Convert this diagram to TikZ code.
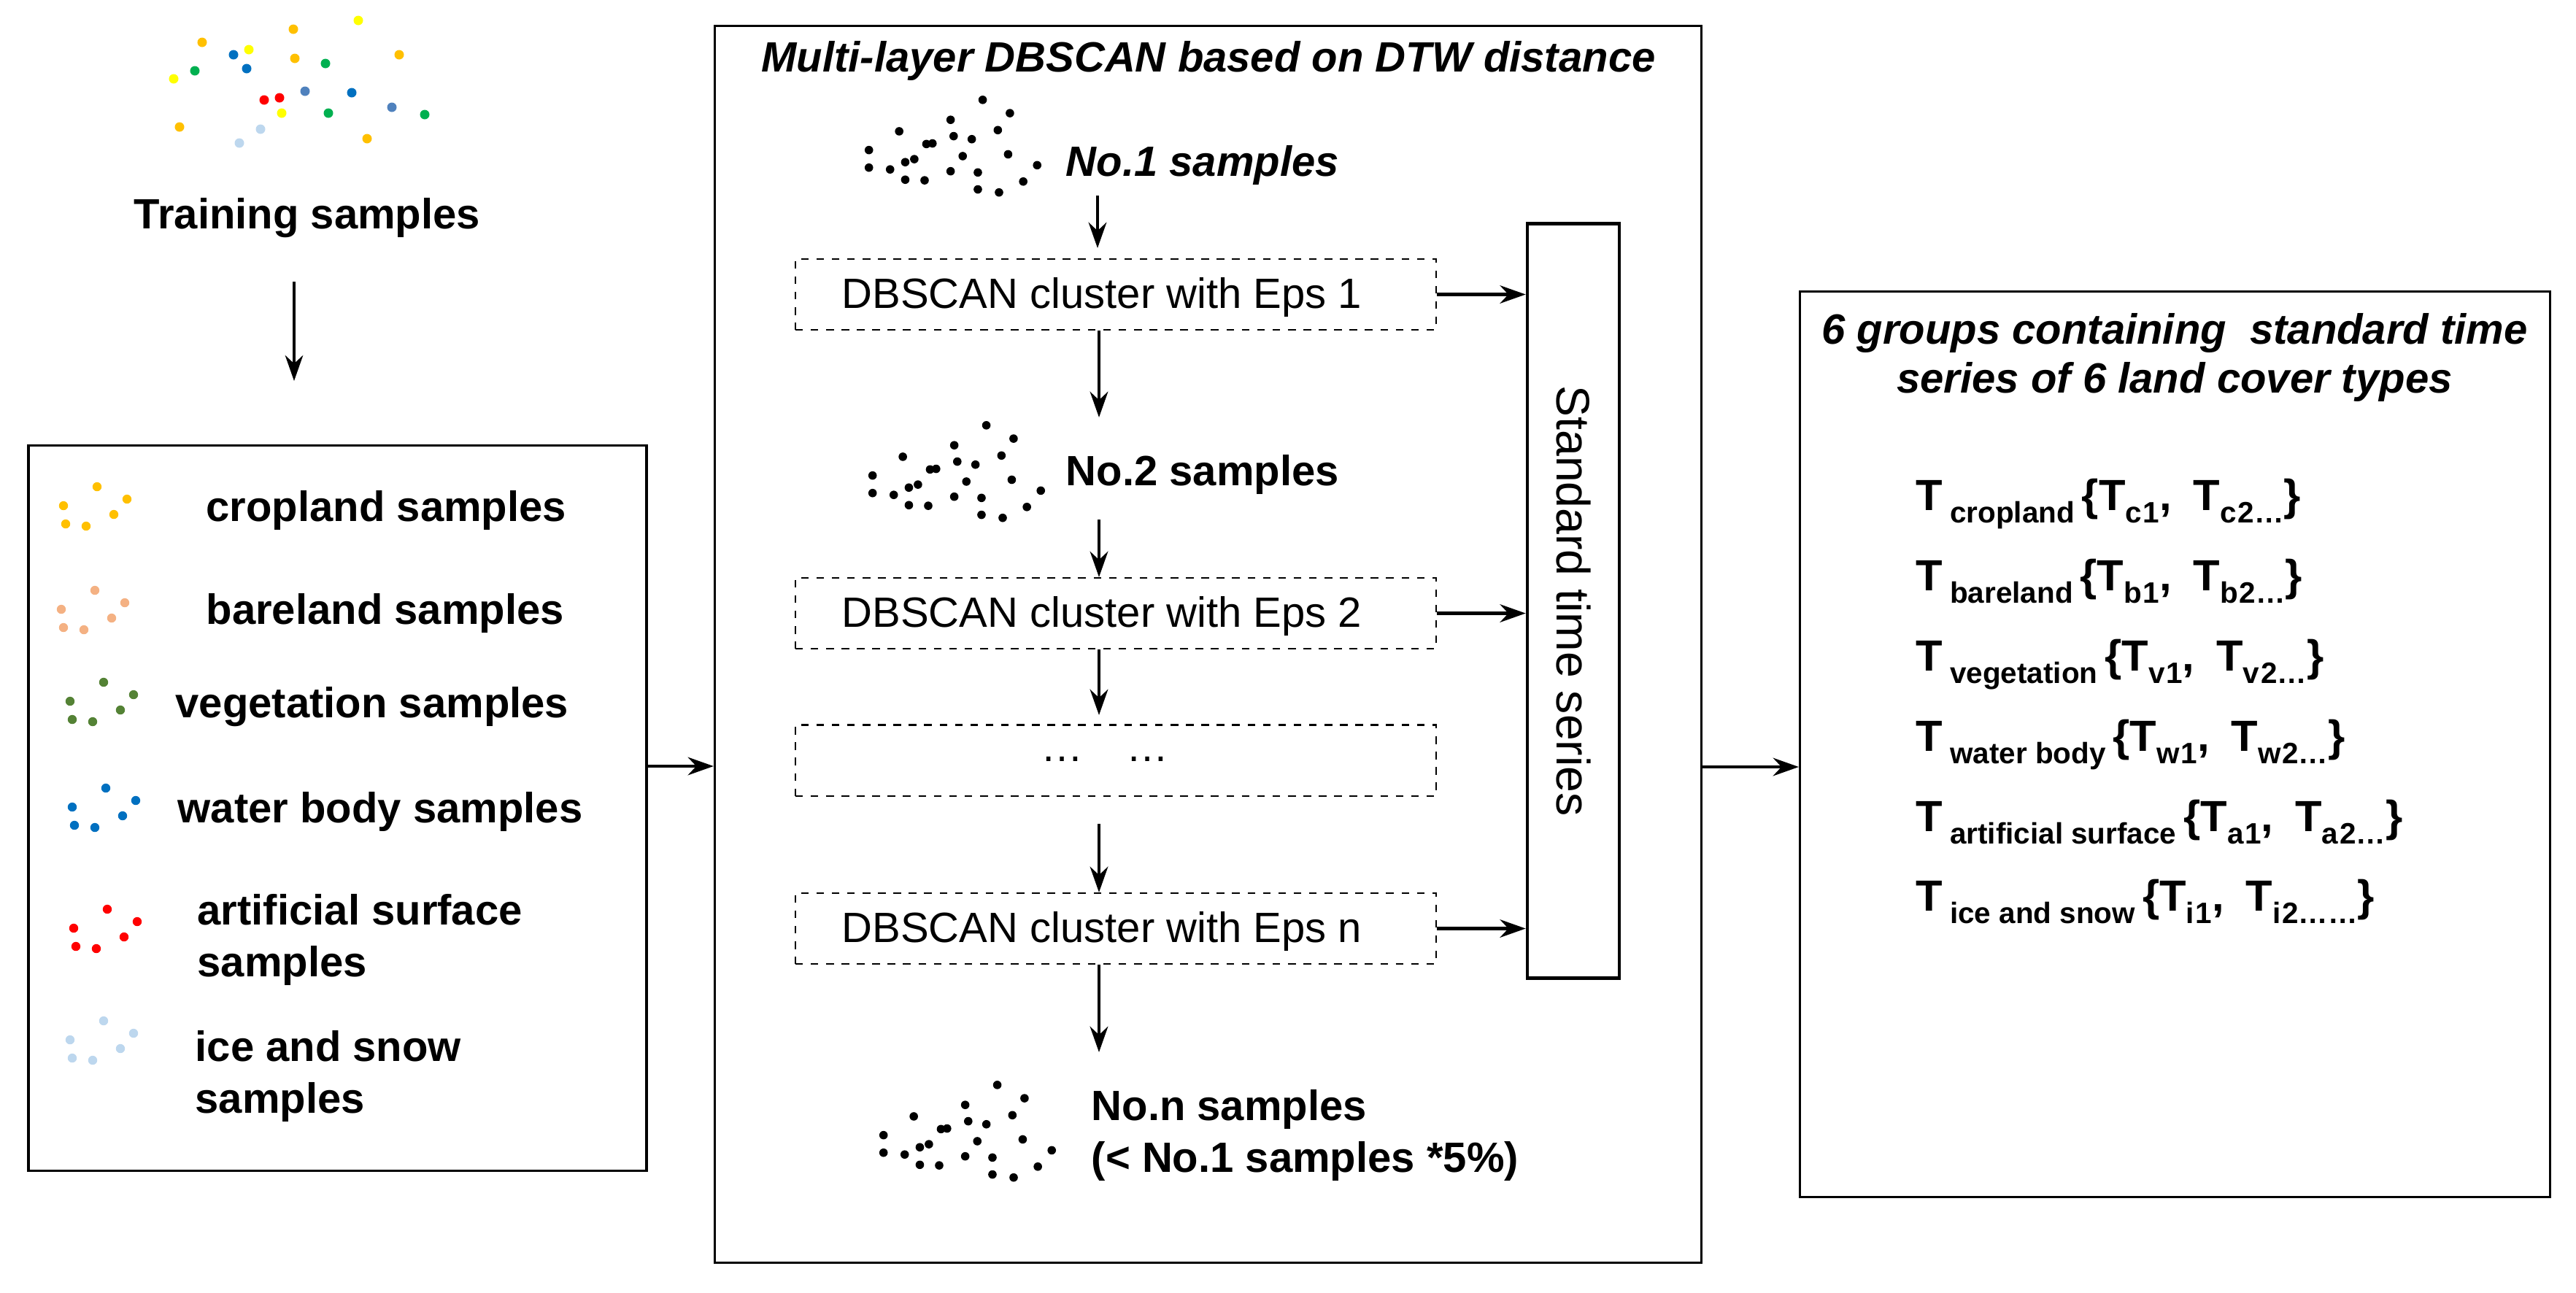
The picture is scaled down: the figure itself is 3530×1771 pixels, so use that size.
\documentclass[tikz,border=0pt]{standalone}
\usepackage{fontspec}
\setmainfont{Liberation Sans}
\usetikzlibrary{arrows.meta}
\definecolor{cOr}{HTML}{FFC000}\definecolor{cYe}{HTML}{FFFF00}\definecolor{cGr}{HTML}{00B050}
\definecolor{cBl}{HTML}{0070C0}\definecolor{cSb}{HTML}{4F81BD}\definecolor{cRe}{HTML}{FF0000}
\definecolor{cLb}{HTML}{BDD7EE}\definecolor{cBa}{HTML}{F4B183}\definecolor{cVe}{HTML}{548235}
\newcommand\trow[3]{\textbf{\fontsize{17}{17}\selectfont T\,\raisebox{-0.55ex}{\fontsize{11.5}{12}\selectfont #1}\,\{T\raisebox{-0.55ex}{\fontsize{11.5}{12}\selectfont #2\kern0.5pt1},\enspace T\raisebox{-0.55ex}{\fontsize{11.5}{12}\selectfont #2\kern0.5pt2#3}\}}}
\begin{document}
\begin{tikzpicture}[x=0.01cm,y=-0.01cm,
  txt/.style={inner sep=0pt,font=\fontsize{16.5}{20}\selectfont},
  btxt/.style={txt,font=\fontsize{16.5}{20}\selectfont\bfseries},
  bitxt/.style={txt,font=\fontsize{16.5}{20}\selectfont\bfseries\itshape},
  box/.style={draw,line width=1pt,inner sep=0pt},
  dbox/.style={draw,dashed,line width=0.6pt,inner sep=0pt,minimum width=8.78cm,minimum height=0.97cm},
  arr/.style={-{Stealth[length=10pt,width=7pt]},line width=1.3pt},
  sarr/.style={-{Stealth[length=10pt,width=7pt]},line width=0.9pt},
  dot/.style={radius=0.065cm}]
\useasboundingbox (0,0) rectangle (3530,1771);
% training dots
\foreach \x/\y/\c in {402/40/cOr,491/28/cYe,277/58/cOr,320/75/cBl,341/68/cYe,404/80/cOr,446/87/cGr,547/75/cOr,267/97/cGr,238/108/cYe,338/94/cBl,418/125/cSb,482/127/cBl,362/137/cRe,383/134/cRe,537/147/cSb,386/155/cYe,450/155/cGr,582/157/cGr,246/174/cOr,357/177/cLb,328/196/cLb,503/190/cOr}
  \fill[\c] (\x,\y) circle[dot];
\node[btxt] (train) at (421,299) {Training samples};
\coordinate (tA) at (403,386);
\coordinate (tB) at (403,522);
\draw[sarr] (tA) -- (tB);
% left box
\node[box,minimum width=8.47cm,minimum height=9.93cm] (left) at (462.5,1107.5) {};
\foreach \tx/\ty/\c in {133/667/cOr,130/809/cBa,142/935/cVe,145/1080/cBl,147/1246/cRe,142/1399/cLb}
  \foreach \dx/\dy in {0/0,41/17,-46/26,23/38,-43/51,-15/54}
    \fill[\c] (\tx+\dx,\ty+\dy) circle[radius=0.062cm];
\node[btxt,anchor=west] (l1) at (282,699) {cropland samples};
\node[btxt,anchor=west] (l2) at (282,840) {bareland samples};
\node[btxt,anchor=west] (l3) at (240,969) {vegetation samples};
\node[btxt,anchor=west] (l4) at (243,1112) {water body samples};
\node[btxt,anchor=west,align=left] (l5) at (270,1288) {artificial surface\\samples};
\node[btxt,anchor=west,align=left] (l6) at (267,1475) {ice and snow\\samples};
% middle box
\node[box,minimum width=13.51cm,minimum height=16.94cm] (mid) at (1655.5,883) {};
\draw[arr] (left.east |- 0,1050) -- (mid.west |- 0,1050);
\node[bitxt] (mtitle) at (1656,83) {Multi-layer DBSCAN based on DTW distance};
\foreach \sx/\sy in {0/0,5/446,20/1350}
  \foreach \x/\y in {418/165,463/187,280/217,365/198,443/215,370/225,400/230,335/237,325/238,230/248,460/255,385/258,305/263,290/268,230/277,265/280,508/273,410/285,365/283,290/297,322/298,485/300,410/313,445/318}
    \fill[black] ({1000+\x/1.206+\sx},{\y/1.206+\sy}) circle[radius=0.058cm];
\node[bitxt,anchor=west] (n1) at (1460,226) {No.1 samples};
\node[btxt,anchor=west] (n2) at (1460,650) {No.2 samples};
\node[btxt,anchor=west,align=left] (nn) at (1495,1556) {No.n samples\\(< No.1 samples *5\%)};
\node[dbox] (b1) at (1529,403.5) {};
\node[dbox] (b2) at (1529,840.5) {};
\node[dbox] (b3) at (1529,1042) {};
\node[dbox] (b4) at (1529,1272.5) {};
\node[txt] at (1510,407) {DBSCAN cluster with Eps 1};
\node[txt] at (1510,844) {DBSCAN cluster with Eps 2};
\node[txt] at (1514,1040) {\dots\quad\dots};
\node[txt] at (1510,1276) {DBSCAN cluster with Eps n};
\coordinate (a0) at (1504,268);
\coordinate (a1) at (1504,340);
\draw[arr] (a0) -- (a1);
\draw[arr] (b1.south -| 1506,0) -- (1506,572);
\draw[arr] (1506,712) -- (b2.north -| 1506,0);
\draw[arr] (b2.south -| 1506,0) -- (1506,980);
\draw[arr] (1506,1129) -- (b4.north -| 1506,0);
\draw[arr] (b4.south -| 1506,0) -- (1506,1442);
% standard time series
\node[box,line width=1.3pt,minimum width=1.26cm,minimum height=10.33cm] (sts) at (2156,823.5) {};
\node[txt,font=\fontsize{18.3}{20}\selectfont,rotate=-90] at (sts.center) {Standard time series};
\draw[arr] (b1.east) -- (b1.east -| sts.west);
\draw[arr] (b2.east) -- (b2.east -| sts.west);
\draw[arr] (b4.east) -- (b4.east -| sts.west);
% right box
\node[box,minimum width=10.27cm,minimum height=12.4cm] (right) at (2980.5,1020) {};
\draw[arr] (mid.east |- 0,1051) -- (right.west |- 0,1051);
\node[bitxt,align=center] (rtitle) at (2980,490) {6 groups containing \ standard time\\[-1pt]series of 6 land cover types};
\node[txt,anchor=base west] (r1) at (2625,699) {\trow{cropland}{c}{\dots}};
\node[txt,anchor=base west] (r2) at (2625,809) {\trow{bareland}{b}{\dots}};
\node[txt,anchor=base west] (r3) at (2625,919) {\trow{vegetation}{v}{\dots}};
\node[txt,anchor=base west] (r4) at (2625,1029) {\trow{water body}{w}{\dots}};
\node[txt,anchor=base west] (r5) at (2625,1139) {\trow{artificial surface}{a}{\dots}};
\node[txt,anchor=base west] (r6) at (2625,1248) {\trow{ice and snow}{i}{\dots\dots}};
\end{tikzpicture}
\end{document}
